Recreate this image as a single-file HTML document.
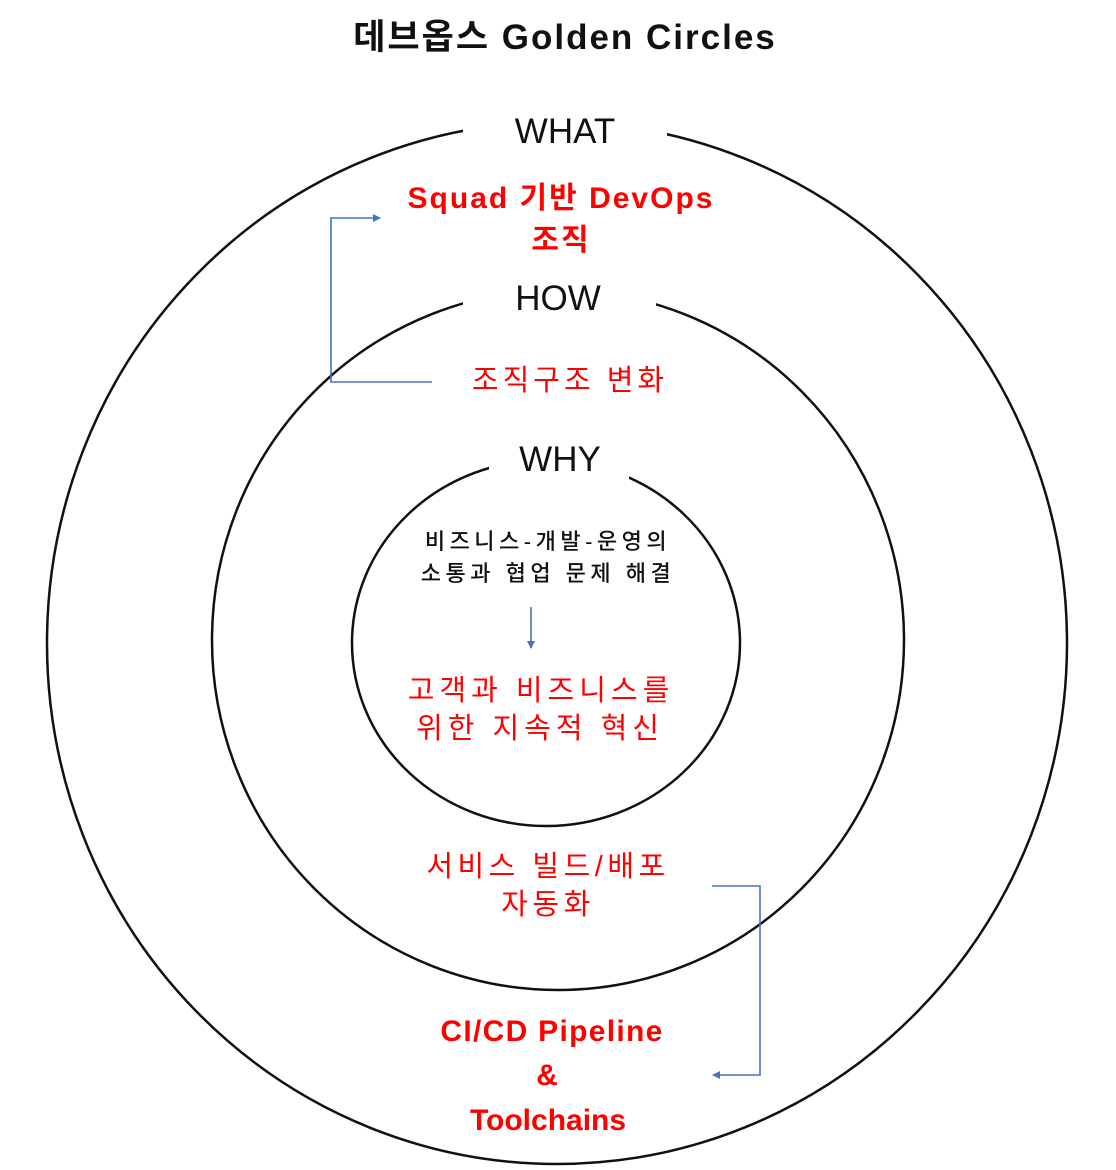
<!DOCTYPE html>
<html><head><meta charset="utf-8"><style>
html,body{margin:0;padding:0;background:#fff;}
svg{display:block;}
text{font-family:"Liberation Sans","Noto Sans CJK KR",sans-serif;}
</style></head><body>
<svg width="1116" height="1170" viewBox="0 0 1116 1170" xmlns="http://www.w3.org/2000/svg">
<defs>
<marker id="a" markerWidth="8" markerHeight="8" refX="7" refY="4" orient="auto" markerUnits="userSpaceOnUse">
<path d="M0,0 L8,4 L0,8 z" fill="#4472c4"/></marker>
</defs>
<text x="565" y="49" text-anchor="middle" font-size="35" font-weight="bold" fill="#111" letter-spacing="2">데브옵스 Golden Circles</text>
<g fill="none" stroke="#111" stroke-width="2.5">
<ellipse cx="557" cy="643" rx="510" ry="521"/>
<ellipse cx="558" cy="640" rx="346" ry="350"/>
<ellipse cx="546" cy="643" rx="194" ry="183"/>
</g>
<rect x="463" y="100" width="204" height="50" fill="#fff"/>
<rect x="463" y="268" width="193" height="50" fill="#fff"/>
<rect x="489" y="432" width="140" height="50" fill="#fff"/>
<text x="565" y="143" text-anchor="middle" font-size="35" fill="#111">WHAT</text>
<text x="558" y="310" text-anchor="middle" font-size="35" fill="#111">HOW</text>
<text x="560" y="471" text-anchor="middle" font-size="35" fill="#111">WHY</text>
<g fill="#ff0000" font-weight="bold" text-anchor="middle" font-size="30">
<text x="561" y="208" letter-spacing="2">Squad 기반 DevOps</text>
<text x="561" y="250" letter-spacing="2">조직</text>
<text x="552" y="1041" letter-spacing="1.3">CI/CD Pipeline</text>
<text x="547" y="1085">&amp;</text>
<text x="548" y="1130">Toolchains</text>
</g>
<g fill="#ff0000" text-anchor="middle" font-size="29">
<text x="570" y="390" letter-spacing="4">조직구조 변화</text>
<text x="541" y="700" letter-spacing="5">고객과 비즈니스를</text>
<text x="540" y="738" letter-spacing="5">위한 지속적 혁신</text>
<text x="548" y="876" letter-spacing="4.5">서비스 빌드/배포</text>
<text x="548" y="914" letter-spacing="4.5">자동화</text>
</g>
<g fill="#111" text-anchor="middle" font-size="22" font-weight="500">
<text x="548" y="549" letter-spacing="4.5">비즈니스-개발-운영의</text>
<text x="548" y="581" letter-spacing="4.5">소통과 협업 문제 해결</text>
</g>
<g fill="none" stroke="#4472c4" stroke-width="1.6">
<polyline points="432,382 331,382 331,218 380,218" marker-end="url(#a)"/>
<polyline points="712,886 760,886 760,1075 713,1075" marker-end="url(#a)"/>
<line x1="531" y1="607" x2="531" y2="648" marker-end="url(#a)"/>
</g>
</svg>
</body></html>
